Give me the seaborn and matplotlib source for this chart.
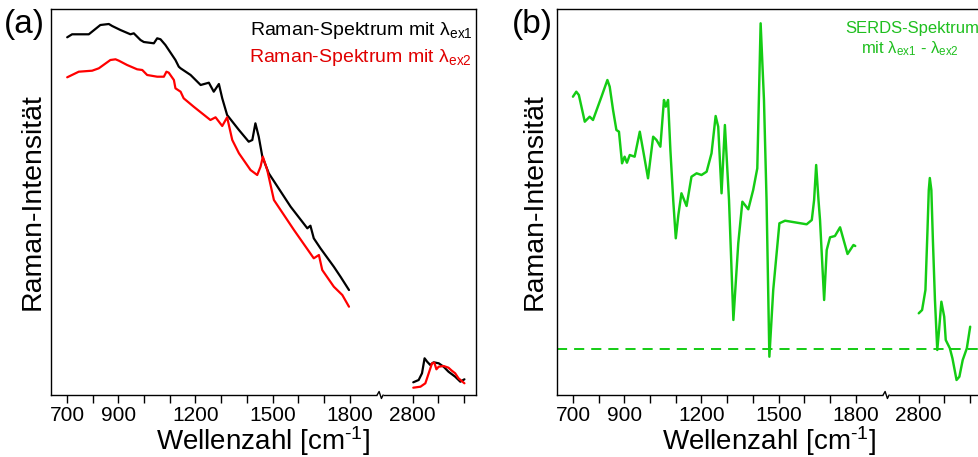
import numpy as np
import matplotlib
matplotlib.use("Agg")
import matplotlib.pyplot as plt
import seaborn as sns

# ---------------------------------------------------------------------------
# Spectra (wavenumber in cm^-1, intensity in arbitrary units)
# ---------------------------------------------------------------------------
# (a) Raman spectrum excited with lambda_ex1 - fingerprint region
wn_ex1_fp = [701, 720, 785, 830, 863, 876, 908, 947, 960, 986, 999, 1038, 1051,
             1064, 1083, 1109, 1122, 1135, 1142, 1181, 1220, 1252, 1271, 1291, 1304,
             1323, 1369, 1407, 1421, 1433, 1446, 1460, 1485, 1570, 1635, 1647,
             1660, 1686, 1738, 1764, 1797]
int_ex1_fp = [357.7, 360.7, 360.7, 370, 371, 369, 365, 360.7, 361.7, 355, 353,
              351.7, 356.7, 355.7, 350, 340, 335, 328.3, 326.7, 320, 310, 312.3,
              303.3, 311, 296.7, 280, 265, 253.3, 255, 271.7, 258.3, 238.3, 221.7,
              188.3, 166.7, 169.3, 156.7, 146.7, 128.3, 118.3, 105]
# (a) Raman spectrum excited with lambda_ex1 - CH stretching region
wn_ex1_ch = [2802, 2823, 2836, 2846, 2856, 2868, 2881, 2901, 2920, 2939, 2965, 2985, 3001]
int_ex1_ch = [12.7, 15, 21.7, 36.7, 33.3, 30, 32.7, 31.7, 28.3, 23.3, 18.3, 13.3, 15.7]

# (a) Raman spectrum excited with lambda_ex2 - fingerprint region
wn_ex2_fp = [701, 746, 798, 824, 869, 889, 902, 934, 973, 993, 1012, 1051, 1077,
             1087, 1096, 1116, 1122, 1142, 1154, 1193, 1258, 1278, 1304, 1323, 1343,
             1369, 1414, 1440, 1453, 1462, 1479, 1505, 1583, 1660, 1680, 1693, 1738,
             1771, 1797]
int_ex2_fp = [317.7, 323.3, 324.3, 326.7, 335, 335.7, 334.3, 330, 325.7, 325, 320,
              318.3, 318.3, 323.3, 322.3, 315, 306.7, 303.3, 296.7, 288.3, 275, 277.7,
              269, 277.7, 255, 241.7, 225, 220, 228.3, 238.3, 225, 195, 165, 136.7,
              140, 125, 108.3, 100, 88.3]
# (a) Raman spectrum excited with lambda_ex2 - CH stretching region
wn_ex2_ch = [2802, 2830, 2849, 2862, 2875, 2884, 2892, 2901, 2920, 2939, 2952, 2965, 2978, 3001]
int_ex2_ch = [7.3, 8.3, 11.7, 21.7, 31.7, 32.3, 25.7, 28.3, 29, 27.3, 24.3, 21.7, 16.7, 11.7]

# (b) SERDS difference spectrum - fingerprint region
wn_serds_fp = [700, 713, 723, 746, 765, 778, 811, 834, 843, 856, 869, 879, 891, 901,
               910, 921, 940, 960, 975, 992, 1012, 1025, 1040, 1054, 1061, 1070, 1079,
               1090, 1100, 1110, 1122, 1142, 1161, 1181, 1200, 1220, 1239, 1255, 1265,
               1278, 1291, 1307, 1324, 1343, 1359, 1382, 1401, 1417, 1430, 1443, 1453,
               1464, 1479, 1503, 1525, 1609, 1629, 1638, 1646, 1655, 1661, 1677, 1687,
               1700, 1719, 1739, 1768, 1791, 1798]
int_serds_fp = [252.6, 257.6, 254.3, 227.6, 232.6, 229.3, 252.6, 269.3, 262.6, 239.3,
                219.3, 217.6, 186, 192.6, 186.6, 194.3, 192.6, 217.6, 196, 171, 212.6,
                209.3, 202.6, 249.3, 242.6, 249.3, 199.3, 149.3, 111, 134.3, 156, 143.3,
                172.6, 176, 174.3, 177.6, 196, 233.3, 222.6, 156, 224.3, 149.3, 29.3,
                106, 147.6, 140, 159.3, 181, 326, 249.3, 149.3, -7.4, 59.3, 126, 128.6,
                125, 129.3, 149.3, 184.3, 149.3, 129.3, 49.3, 99.3, 112, 113.3, 122,
                95.3, 104.3, 103.3]
# (b) SERDS difference spectrum - CH stretching region
wn_serds_ch = [2800, 2813, 2826, 2834, 2839, 2843, 2849, 2855, 2863, 2872, 2879, 2888,
               2899, 2905, 2921, 2931, 2947, 2958, 2971, 2987, 3000]
int_serds_ch = [36, 39.3, 59.3, 119.3, 159.3, 171.3, 159.3, 109.3, 49.3, -0.7, 19.3,
                47.6, 32.6, 9.3, 1, -9, -30.7, -27.4, -10.7, 1, 22.6]

# Axis ticks
tick_positions = [700, 800, 900, 1000, 1100, 1200, 1300, 1400, 1500, 1600, 1700, 1800,
                  2800, 2900, 3000]
tick_labels = ["700", "", "900", "", "", "1200", "", "", "1500", "", "", "1800",
               "2800", "", ""]

# ---------------------------------------------------------------------------
# Broken wavenumber axis: the range between the two spectral windows is cut out
# ---------------------------------------------------------------------------
BREAK_LO, BREAK_HI = 1920.0, 2675.0
GAP = BREAK_HI - BREAK_LO
XMIN, XMAX = 638.0, 3046.0


def fwd(x):
    x = np.asarray(x, dtype=float)
    return np.where(x >= BREAK_HI, x - GAP, np.minimum(x, BREAK_LO))


def inv(u):
    u = np.asarray(u, dtype=float)
    return np.where(u > BREAK_LO, u + GAP, u)


BLACK = "#000000"
RED = "#ff0000"
RED_TXT = "#e00000"
GREEN = "#14cc14"
GREEN_TXT = "#1fbf1f"

sns.set_style("ticks", rc={
    "axes.edgecolor": "black",
    "axes.labelcolor": "black",
    "text.color": "black",
    "xtick.color": "black",
    "ytick.color": "black",
})
plt.rcParams["font.family"] = ["Liberation Sans", "DejaVu Sans"]
plt.rcParams["mathtext.default"] = "regular"
plt.rcParams["lines.solid_joinstyle"] = "round"
plt.rcParams["lines.solid_capstyle"] = "round"

fig = plt.figure(figsize=(9.79, 4.57), dpi=100)
ax_a = fig.add_axes([51 / 979, 62 / 457, 425 / 979, 386 / 457])
ax_b = fig.add_axes([557 / 979, 62 / 457, 425 / 979, 386 / 457])

LW = 1.6
for x, y, c in [(wn_ex1_fp, int_ex1_fp, BLACK), (wn_ex1_ch, int_ex1_ch, BLACK),
                (wn_ex2_fp, int_ex2_fp, RED), (wn_ex2_ch, int_ex2_ch, RED)]:
    sns.lineplot(x=x, y=y, ax=ax_a, color=c, lw=LW, estimator=None, sort=False,
                 legend=False)

for x, y in [(wn_serds_fp, int_serds_fp), (wn_serds_ch, int_serds_ch)]:
    sns.lineplot(x=x, y=y, ax=ax_b, color=GREEN, lw=1.75, estimator=None, sort=False,
                 legend=False)
ax_b.axhline(0, color=GREEN, lw=1.4, dashes=(5.2, 3.6), zorder=1,
             solid_capstyle="butt", dash_capstyle="butt")

ax_a.set_ylim(0, 386)
ax_b.set_ylim(-45.7, 340.3)

break_frac = float((fwd(BREAK_LO) - fwd(XMIN)) / (fwd(XMAX) - fwd(XMIN)))

for ax, ypad in ((ax_a, 4), (ax_b, 7)):
    ax.set_xscale("function", functions=(fwd, inv))
    ax.set_xlim(XMIN, XMAX)
    ax.set_xticks(tick_positions)
    ax.set_xticklabels(tick_labels)
    ax.set_yticks([])
    ax.tick_params(axis="x", direction="out", length=5.5, width=1.0, pad=2.5,
                   labelsize=15)
    for sp in ax.spines.values():
        sp.set_linewidth(1.0)
    ax.set_xlabel("Wellenzahl [cm$^{\u2010 1}$]", fontsize=20, labelpad=-1)
    ax.set_ylabel("Raman-Intensität", fontsize=20.5, labelpad=ypad)

    # zig-zag break mark on the bottom axis
    dx = 1 / 425.0
    dy = 1 / 386.0
    ax.plot([break_frac - 3.5 * dx, break_frac + 2.5 * dx], [0, 0],
            transform=ax.transAxes, color="white", lw=2.5, clip_on=False, zorder=5,
            solid_capstyle="butt")
    ax.plot([break_frac - 3.5 * dx, break_frac - 1.5 * dx, break_frac + 0.8 * dx,
             break_frac + 2.5 * dx],
            [0, 3.5 * dy, -3.5 * dy, 0],
            transform=ax.transAxes, color="black", lw=1.0, clip_on=False, zorder=6)

# Annotations inside the panels
ax_a.text(0.993, 0.9326, "Raman-Spektrum mit λ$_{ex1}$", transform=ax_a.transAxes,
          ha="right", va="baseline", fontsize=14, color=BLACK)
ax_a.text(0.991, 0.8627, "Raman-Spektrum mit λ$_{ex2}$", transform=ax_a.transAxes,
          ha="right", va="baseline", fontsize=14, color=RED_TXT)
ax_b.text(0.835, 0.938, "SERDS-Spektrum", transform=ax_b.transAxes,
          ha="center", va="baseline", fontsize=12, color=GREEN_TXT)
ax_b.text(0.830, 0.886, "mit λ$_{ex1}$ - λ$_{ex2}$", transform=ax_b.transAxes,
          ha="center", va="baseline", fontsize=12, color=GREEN_TXT)

fig.text(4 / 979, 1 - 24 / 457, "(a)", fontsize=24, ha="left", va="center")
fig.text(512 / 979, 1 - 24 / 457, "(b)", fontsize=24, ha="left", va="center")

fig.savefig("out.png", dpi=100)
